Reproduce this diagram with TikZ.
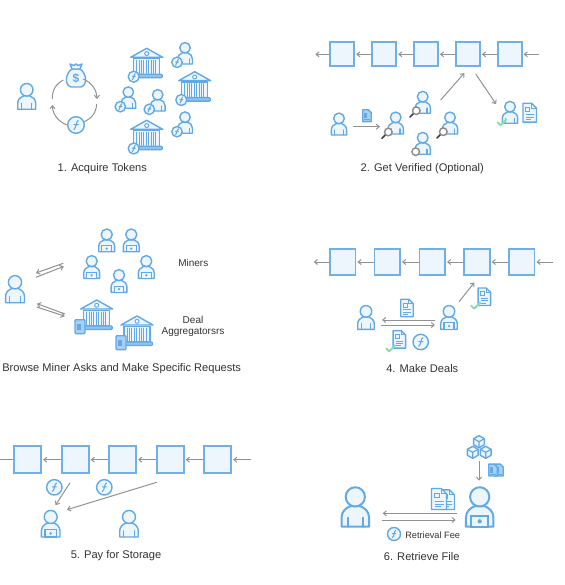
\documentclass[tikz,border=0pt]{standalone}
\usepackage{fontspec}
\setmainfont{Liberation Sans}
\usetikzlibrary{arrows.meta}
\definecolor{iconblue}{HTML}{62A9E8}
\definecolor{iconfill}{HTML}{EDF6FD}
\definecolor{blockblue}{HTML}{70B0E8}
\definecolor{connGray}{HTML}{929292}
\definecolor{txtGray}{HTML}{333333}
\definecolor{checkGreen}{HTML}{8EDDB2}
\definecolor{darkfill}{HTML}{A9D0F2}
\tikzset{
  icon/.style={draw=iconblue,line width=1.4pt,line join=round,fill=iconfill},
  iconline/.style={draw=iconblue,line width=1.2pt,line cap=round},
  thinline/.style={draw=iconblue,line width=0.9pt},
  blockbox/.style={draw=blockblue,line width=1.8pt,fill=iconfill,inner sep=0pt,outer sep=0.9pt},
  conn/.style={draw=connGray,line width=1pt,-{Straight Barb[length=3pt,width=5pt]},shorten >=1pt},
  plainconn/.style={draw=connGray,line width=1pt},
  label/.style={text=txtGray,font=\fontsize{11.1}{13}\selectfont,inner sep=0pt,align=center},
  person/.pic={
    \draw[icon] (-9,0) -- (-9,-6) .. controls (-9,-10) and (-6,-12.5) .. (-3,-13.5) -- (3,-13.5) .. controls (6,-12.5) and (9,-10) .. (9,-6) -- (9,0) -- cycle;
    \draw[iconline] (-5,0) -- (-5,-6) (5,0) -- (5,-6);
    \draw[icon,fill=iconfill] (0,-19.5) circle [radius=6.3];
  },
  miner/.pic={
    \draw[icon] (-9,0) -- (-9,-6) .. controls (-9,-10) and (-6,-12.5) .. (-3,-13.5) -- (3,-13.5) .. controls (6,-12.5) and (9,-10) .. (9,-6) -- (9,0) -- cycle;
    \draw[iconline,fill=iconfill] (-5.5,0) rectangle (5.5,-7);
    \fill[iconblue] (0,-3.5) circle [radius=1.4];
    \draw[icon,fill=iconfill] (0,-19.5) circle [radius=6.3];
  },
  coin/.pic={
    \draw[icon,fill=iconfill] (0,0) circle [radius=1];
    \draw[draw=iconblue,line width=1.1pt,line cap=round] (0.28,-0.55) .. controls (0,-0.5) and (0.08,0.3) .. (-0.25,0.55) (-0.25,-0.05) -- (0.28,-0.05);
  },
  bank/.pic={
    \draw[icon] (-16,9) -- (0,0) -- (16,9) -- cycle;
    \draw[icon,line width=1pt,fill=white] (0,5.3) circle [radius=2];
    \draw[icon] (-13,10.5) rectangle (13,26);
    \foreach \cx in {-10,-7.6,...,10.5} \draw[iconline,line width=1pt] (\cx,12) -- (\cx,25);
    \draw[icon,fill=iconblue!70,rounded corners=1pt] (-15.5,26) rectangle (15.5,29.5);
  },
  doc/.pic={
    \draw[icon] (-5,-7) -- (1.5,-7) -- (5,-3.5) -- (5,7) -- (-5,7) -- cycle;
    \draw[thinline] (1.5,-7) -- (1.5,-3.5) -- (5,-3.5);
    \draw[thinline] (-3,-4) rectangle (0,-0.8);
    \draw[thinline] (-3,1.5) -- (3,1.5) (-3,3.3) -- (3,3.3) (-3,5) -- (1,5);
  },
  darkdoc/.pic={
    \draw[icon,fill=darkfill] (-5,-7) -- (1.5,-7) -- (5,-3.5) -- (5,7) -- (-5,7) -- cycle;
    \fill[iconblue] (-3,-3) rectangle (0.5,3);
    \draw[thinline] (-3,4.7) -- (3,4.7);
  },
  check/.pic={
    \draw[draw=checkGreen,line width=2pt,line cap=round,line join=round] (-4.5,0) -- (-1.5,3) -- (4.5,-3);
  },
  lens/.pic={
    \draw[draw=black!75,line width=1.5pt,line cap=round] (-2.5,2.5) -- (-6.5,6.5);
    \draw[draw=black!45,line width=1.4pt,fill=white] (0,0) circle [radius=3.8];
  },
  tablet/.pic={
    \draw[icon,fill=darkfill,rounded corners=1pt] (-5,-7) rectangle (5,7);
    \fill[iconblue] (-3,-3) rectangle (1,3);
  },
  cube/.pic={
    \draw[icon,fill=iconfill] (0,-6) -- (5.4,-3) -- (5.4,3) -- (0,6) -- (-5.4,3) -- (-5.4,-3) -- cycle;
    \draw[iconline] (-5.4,-3) -- (0,0) -- (5.4,-3) (0,0) -- (0,6);
  },
  bag/.pic={
    \draw[icon] (-4,-7) .. controls (-10.5,-3) and (-12,9) .. (-5,11) -- (5,11) .. controls (12,9) and (10.5,-3) .. (4,-7) -- cycle;
    \draw[icon] (-4,-7) -- (-6,-12) -- (-2,-10.5) -- (0,-12) -- (2,-10.5) -- (6,-12) -- (4,-7) -- cycle;
    \node[inner sep=0pt,text=iconblue,font=\bfseries\fontsize{12}{12}\selectfont] at (0,2.5) {\$};
  }
}
\begin{document}
\begin{tikzpicture}[x=1pt,y=-1pt]
\useasboundingbox[fill=white] (0,0) rectangle (564,585);

% ---------- Panel 1
\pic at (26.7,109.3) {person};
\pic at (76,76) {bag};
\pic[scale=8.3] at (76,125) {coin};
\coordinate (a1) at (52.3,99); \coordinate (a2) at (63.3,80);
\coordinate (a3) at (83.3,79); \coordinate (a4) at (97,100);
\coordinate (a5) at (96.7,104); \coordinate (a6) at (84,121.7);
\coordinate (a7) at (66.7,125); \coordinate (a8) at (52.3,104);
\draw[plainconn] (a1) to[bend left=32] (a2);
\draw[conn] (a3) to[bend left=32] (a4);
\draw[plainconn] (a5) to[bend left=32] (a6);
\draw[conn] (a7) to[bend left=32] (a8);
\pic at (146.7,48.3) {bank};
\pic[scale=5.5] at (133.7,76.7) {coin};
\pic at (194.7,71.7) {bank};
\pic[scale=5.5] at (181.3,100) {coin};
\pic at (146.7,120.3) {bank};
\pic[scale=5.5] at (133.7,148.5) {coin};
\pic[scale=0.83] at (185,64) {person};
\pic[scale=5.2] at (177,62.3) {coin};
\pic[scale=0.83] at (128.3,108.3) {person};
\pic[scale=5.2] at (120.3,106.7) {coin};
\pic[scale=0.83] at (157.7,111) {person};
\pic[scale=5.2] at (149.3,109.3) {coin};
\pic[scale=0.83] at (185,133.3) {person};
\pic[scale=5.2] at (177,131.7) {coin};
\node[label] (t1) at (102.3,168.3) {1. Acquire Tokens};

% ---------- Panel 2
\foreach \n/\cx in {1/342.3,2/384.3,3/426,4/468,5/509.7}
  \node[blockbox,minimum size=24pt] (b2\n) at (\cx,54.3) {};
\coordinate (l2) at (314.3,54.3); \coordinate (r2) at (539.3,54.3);
\draw[conn] (b21.west) -- (l2);
\draw[conn] (b22.west) -- (b21.east);
\draw[conn] (b23.west) -- (b22.east);
\draw[conn] (b24.west) -- (b23.east);
\draw[conn] (b25.west) -- (b24.east);
\draw[conn] (r2) -- (b25.east);
\pic[scale=0.85] at (339,135) {person};
\pic[scale=0.85] at (367,115.7) {darkdoc};
\coordinate (p2a) at (353.3,126.7); \coordinate (p2b) at (381,126.7);
\draw[conn] (p2a) -- (p2b);
\pic[scale=0.85] at (395.7,134) {person};
\pic at (388.3,132) {lens};
\pic[scale=0.85] at (422.7,113.3) {person};
\pic at (416.3,110.7) {lens};
\pic[scale=0.85] at (450,134) {person};
\pic at (443.3,131.7) {lens};
\pic[scale=0.85] at (422.7,154.3) {person};
\draw[draw=black!45,line width=1.4pt,fill=white] (415.7,151.7) circle [radius=3.8];
\coordinate (p2c) at (440.7,100); \coordinate (p2d) at (465,72.3);
\coordinate (p2e) at (475.7,74); \coordinate (p2f) at (496.7,105);
\draw[conn] (p2c) -- (p2d);
\draw[conn] (p2e) -- (p2f);
\pic[scale=0.85] at (510,123.3) {person};
\pic at (502,122.3) {check};
\pic[scale=1.35] at (529.7,112.7) {doc};
\node[label] (t2) at (422.3,168.3) {2. Get Verified (Optional)};

% ---------- Panel 3
\pic[scale=1.05] at (15,302.7) {person};
\pic[scale=0.88] at (106.7,251.7) {miner};
\pic[scale=0.88] at (131.3,251.7) {miner};
\pic[scale=0.88] at (91.7,278.3) {miner};
\pic[scale=0.88] at (146.3,278.3) {miner};
\pic[scale=0.88] at (119,292.3) {miner};
\coordinate (q1) at (63.3,263.3); \coordinate (q2) at (35,273.3);
\coordinate (q3) at (36,277.3); \coordinate (q4) at (64.7,266);
\coordinate (q5) at (65,314); \coordinate (q6) at (36,303.3);
\coordinate (q7) at (36.7,307); \coordinate (q8) at (65.7,316.5);
\draw[conn] (q1) -- (q2);
\draw[conn] (q3) -- (q4);
\draw[conn] (q5) -- (q6);
\draw[conn] (q7) -- (q8);
\pic at (96.7,300) {bank};
\pic at (80,326.7) {tablet};
\pic at (137,316) {bank};
\pic at (121,342.7) {tablet};
\node[label,font=\fontsize{10}{12}\selectfont] (m3) at (193.3,262.7) {Miners};
\node[label,font=\fontsize{10}{11}\selectfont] (d3) at (193,326.6) {Deal\\Aggregatorsrs};
\node[label] (t3) at (121.7,368.7) {Browse Miner Asks and Make Specific Requests};

% ---------- Panel 4
\foreach \n/\cx in {1/342.7,2/387.3,3/432.3,4/477,5/521.7}
  \node[blockbox,minimum size=25.6pt] (b4\n) at (\cx,262) {};
\coordinate (l4) at (312.7,262); \coordinate (r4) at (553.3,262);
\draw[conn] (b41.west) -- (l4);
\draw[conn] (b42.west) -- (b41.east);
\draw[conn] (b43.west) -- (b42.east);
\draw[conn] (b44.west) -- (b43.east);
\draw[conn] (b45.west) -- (b44.east);
\draw[conn] (r4) -- (b45.east);
\pic[scale=0.92] at (366,329.3) {person};
\pic[scale=0.92] at (449,329.3) {miner};
\pic[scale=1.25] at (407,308) {doc};
\coordinate (u4a) at (435,320); \coordinate (u4b) at (381,320);
\coordinate (u4c) at (381,325); \coordinate (u4d) at (436,325);
\draw[conn] (u4a) -- (u4b);
\draw[conn] (u4c) -- (u4d);
\pic[scale=1.25] at (399.3,339.3) {doc};
\pic at (390.7,348.3) {check};
\pic[scale=7.7] at (420.7,342) {coin};
\coordinate (u4e) at (459,301.7); \coordinate (u4f) at (475,281.7);
\draw[conn] (u4e) -- (u4f);
\pic[scale=1.25] at (484.3,296.7) {doc};
\pic at (475.7,305.7) {check};
\node[label] (t4) at (422.3,368.7) {4. Make Deals};

% ---------- Panel 5
\foreach \n/\cx in {1/27.7,2/75.3,3/122.7,4/170.3,5/217.7}
  \node[blockbox,minimum size=27pt] (b5\n) at (\cx,459.7) {};
\coordinate (l5) at (0,459.7); \coordinate (r5) at (251,459.7);
\draw[plainconn] (b51.west) -- (l5);
\draw[conn] (b52.west) -- (b51.east);
\draw[conn] (b53.west) -- (b52.east);
\draw[conn] (b54.west) -- (b53.east);
\draw[conn] (b55.west) -- (b54.east);
\draw[conn] (r5) -- (b55.east);
\pic[scale=7.7] at (54.3,487.3) {coin};
\pic[scale=7.7] at (104.3,487.3) {coin};
\coordinate (v5a) at (70,482.7); \coordinate (v5b) at (55,506);
\coordinate (v5c) at (156.7,482.3); \coordinate (v5d) at (66,510);
\draw[conn] (v5a) -- (v5b);
\draw[conn] (v5c) -- (v5d);
\pic[scale=1.03] at (50.7,537) {miner};
\pic[scale=1.03] at (129,537) {person};
\node[label] (t5) at (116,556) {5. Pay for Storage};

% ---------- Panel 6
\begin{scope}[icon/.append style={line width=2pt},iconline/.append style={line width=1.8pt}]
\pic[scale=1.53] at (355.3,526.7) {person};
\pic[scale=1.53] at (479.7,526.7) {miner};
\end{scope}
\coordinate (w6a) at (456.7,513.3); \coordinate (w6b) at (381.7,513.3);
\coordinate (w6c) at (381.7,520); \coordinate (w6d) at (456.7,520);
\draw[conn] (w6a) -- (w6b);
\draw[conn] (w6c) -- (w6d);
\pic[scale=1.4] at (447.5,499.7) {doc};
\pic[scale=1.5] at (439,499) {doc};
\pic at (479,441.7) {cube};
\pic at (472.7,452.3) {cube};
\pic at (485.7,452.3) {cube};
\coordinate (w6e) at (479,460.7); \coordinate (w6f) at (479,481.7);
\draw[conn] (w6e) -- (w6f);
\pic[scale=0.85] at (499,470) {darkdoc};
\pic[scale=0.85] at (493,470) {darkdoc};
\pic[scale=6.5] at (394,534) {coin};
\node[label,font=\fontsize{9.2}{11}\selectfont] (f6) at (432.7,535.3) {Retrieval Fee};
\node[label] (t6) at (421.7,556.7) {6. Retrieve File};
\end{tikzpicture}
\end{document}
